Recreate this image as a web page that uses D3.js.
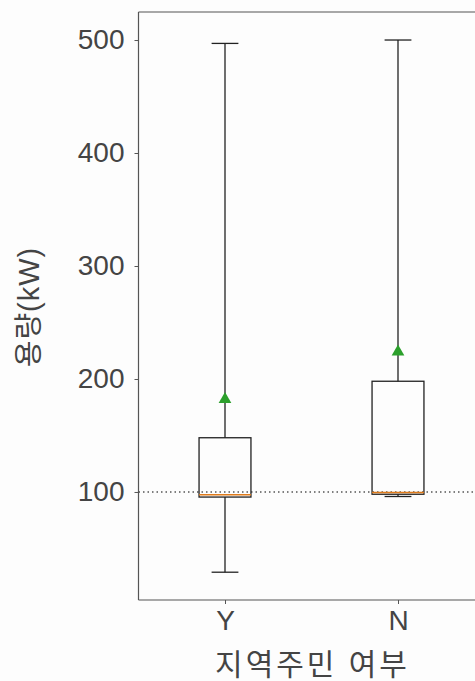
<!DOCTYPE html>
<html><head><meta charset="utf-8">
<script src="https://cdn.jsdelivr.net/npm/d3@7"></script>
<style>html,body{margin:0;padding:0;background:#fdfdfd;}</style>
</head><body>
<script>
const categories = ["Y", "N"];
const whiskerLow = [29, 96];
const q1 = [95.5, 98];
const median = [97.5, 99.5];
const q3 = [148, 198];
const whiskerHigh = [497, 500];
const means = [182, 224];
const refLine = 100;
const yTicks = [100, 200, 300, 400, 500];
const xLabel = "지역주민 여부";
const yLabel = "용량(kW)";

const W = 475, H = 681;
const font = "'Liberation Sans','Noto Sans CJK KR',sans-serif";
const svg = d3.select("body").append("svg").attr("width", W).attr("height", H)
  .style("background", "#fdfdfd");

const x = d3.scaleLinear().domain([0.5, 2.5]).range([138.5, 484.5]);
const y = d3.scaleLinear().domain([4.4, 524.8]).range([600, 12]);
const boxW = 0.3, capW = 0.155;
const ink = "#222";

// reference line
svg.append("line").attr("x1", x(0.5)).attr("x2", x(2.5))
  .attr("y1", y(refLine)).attr("y2", y(refLine))
  .attr("stroke", "#555").attr("stroke-width", 1.6).attr("stroke-dasharray", "1.5,3");

categories.forEach((c, i) => {
  const p = i + 1;
  const g = svg.append("g");
  g.append("line").attr("x1", x(p)).attr("x2", x(p)).attr("y1", y(q3[i])).attr("y2", y(whiskerHigh[i]))
    .attr("stroke", ink).attr("stroke-width", 1.3);
  g.append("line").attr("x1", x(p)).attr("x2", x(p)).attr("y1", y(q1[i])).attr("y2", y(whiskerLow[i]))
    .attr("stroke", ink).attr("stroke-width", 1.3);
  [whiskerHigh[i], whiskerLow[i]].forEach(v => {
    g.append("line").attr("x1", x(p - capW / 2)).attr("x2", x(p + capW / 2)).attr("y1", y(v)).attr("y2", y(v))
      .attr("stroke", ink).attr("stroke-width", 1.3);
  });
  g.append("rect").attr("x", x(p - boxW / 2)).attr("width", x(p + boxW / 2) - x(p - boxW / 2))
    .attr("y", y(q3[i])).attr("height", y(q1[i]) - y(q3[i]))
    .attr("fill", "none").attr("stroke", ink).attr("stroke-width", 1.3);
  g.append("line").attr("x1", x(p - boxW / 2)).attr("x2", x(p + boxW / 2)).attr("y1", y(median[i])).attr("y2", y(median[i]))
    .attr("stroke", "#e07b1a").attr("stroke-width", 1.5);
  g.append("path").attr("d", d3.symbol(d3.symbolTriangle, 70)())
    .attr("transform", `translate(${x(p)},${y(means[i])})`).attr("fill", "#2ca02c");
});

// spines
svg.append("line").attr("x1", x(0.5)).attr("x2", x(0.5)).attr("y1", 12).attr("y2", 600).attr("stroke", "#555").attr("stroke-width", 1.2);
svg.append("line").attr("x1", x(0.5)).attr("x2", x(2.5)).attr("y1", 12).attr("y2", 12).attr("stroke", "#555").attr("stroke-width", 1.2);
svg.append("line").attr("x1", x(0.5)).attr("x2", x(2.5)).attr("y1", 600).attr("y2", 600).attr("stroke", "#555").attr("stroke-width", 1.2);

const ya = svg.append("g").attr("transform", `translate(${x(0.5)},0)`)
  .call(d3.axisLeft(y).tickValues(yTicks).tickSize(4).tickPadding(10));
ya.select(".domain").remove();
ya.selectAll("line").attr("stroke", "#555");
ya.selectAll("text").attr("font-family", font).attr("font-size", 28).attr("fill", "#444");

const xa = svg.append("g").attr("transform", `translate(0,600)`)
  .call(d3.axisBottom(x).tickValues([1, 2]).tickFormat(d => categories[d - 1]).tickSize(4).tickPadding(6));
xa.select(".domain").remove();
xa.selectAll("line").attr("stroke", "#555");
xa.selectAll("text").attr("font-family", font).attr("font-size", 28).attr("fill", "#444");

svg.append("text").attr("x", (x(1) + x(2)) / 2 + 1).attr("y", 675).attr("text-anchor", "middle")
  .attr("font-family", font).attr("font-size", 30).attr("letter-spacing", 3).attr("fill", "#444").text(xLabel);
svg.append("text").attr("transform", `translate(39,307) rotate(-90)`).attr("text-anchor", "middle")
  .attr("font-family", font).attr("font-size", 29).attr("letter-spacing", 1).attr("fill", "#444").text(yLabel);
</script>
</body></html>
